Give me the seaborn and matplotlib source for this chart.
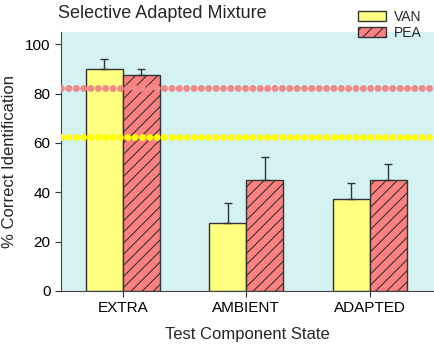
import pandas as pd
import matplotlib
matplotlib.use('Agg')
import matplotlib.pyplot as plt
import seaborn as sns
from matplotlib.patches import Patch

# data
states = ['EXTRA', 'AMBIENT', 'ADAPTED']
van_means = [90.0, 27.5, 37.5]
van_errs = [4.0, 8.3, 6.2]
pea_means = [87.5, 45.0, 45.0]
pea_errs = [2.5, 9.5, 6.3]
pea_chance = 82.5
van_chance = 62.5

df = pd.DataFrame({
    'state': states * 2,
    'odor': ['VAN'] * 3 + ['PEA'] * 3,
    'pct': van_means + pea_means,
})

sns.set_style('ticks')
plt.rcParams['font.family'] = ['Liberation Sans', 'DejaVu Sans']
plt.rcParams['hatch.color'] = '#222222'
plt.rcParams['hatch.linewidth'] = 0.8

fig = plt.figure(figsize=(4.34, 3.46), dpi=100)
ax = fig.add_axes([61 / 434, 55 / 346, 373 / 434, 259 / 346])
ax.set_facecolor('#d4f2f2')

sns.barplot(data=df, x='state', y='pct', hue='odor', order=states,
            hue_order=['VAN', 'PEA'], palette=['#ffff80', '#ff8080'],
            saturation=1, width=0.6, edgecolor='#333333', linewidth=1,
            ax=ax, legend=False)

# hatch PEA bars, add one-sided error bars
bars = ax.patches
errs = van_errs + pea_errs
means = van_means + pea_means
for i, b in enumerate(bars[:6]):
    if i >= 3:
        b.set_hatch('///')
    cx = b.get_x() + b.get_width() / 2
    ax.errorbar(cx, means[i], yerr=[[0], [errs[i]]], fmt='none',
                ecolor='#333333', elinewidth=1, capsize=3, capthick=1)

# chance-level dotted lines
for yv, c in [(pea_chance, '#f08888'), (van_chance, '#ffff00')]:
    ax.axhline(yv, color=c, linestyle=(0, (0.01, 1.05)), linewidth=5,
               dash_capstyle='round', zorder=5)

ax.set_xlim(-0.5, 2.52)
ax.set_ylim(0, 105)
ax.set_yticks([0, 20, 40, 60, 80, 100])
ax.set_xlabel('Test Component State', fontsize=12, labelpad=8)
ax.set_ylabel('% Correct Identification', fontsize=12, labelpad=6)
ax.tick_params(labelsize=11, colors='#333333', labelcolor='black', length=4)
for s in ['top', 'right']:
    ax.spines[s].set_visible(False)
for s in ['left', 'bottom']:
    ax.spines[s].set_color('#444444')

fig.text(58 / 434, 1 - 13 / 346, 'Selective Adapted Mixture', fontsize=13,
         va='center', ha='left')

handles = [Patch(facecolor='#ffff80', edgecolor='#333333', label='VAN'),
           Patch(facecolor='#ff8080', edgecolor='#333333', hatch='///', label='PEA')]
fig.legend(handles=handles, loc='upper left', bbox_to_anchor=(351 / 434, 1 - 3 / 346),
           frameon=False, fontsize=10, handlelength=2.0, handleheight=0.75,
           labelspacing=0.15, handletextpad=0.6, borderpad=0)

fig.savefig('out.png', dpi=100)
